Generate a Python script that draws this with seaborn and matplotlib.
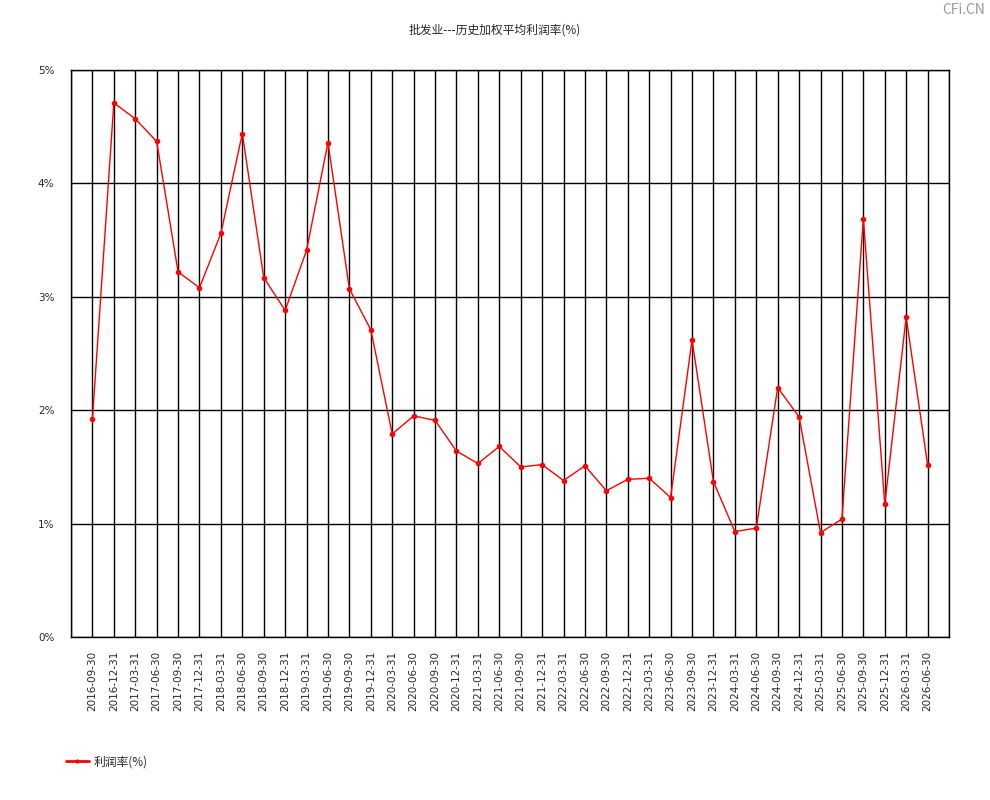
#!/usr/bin/env python3

import pandas as pd
import seaborn as sns
import matplotlib
matplotlib.use("Agg")
import matplotlib.pyplot as plt

# ==========================
# DATA
# ==========================
dates = [
    "2016-09-30", "2016-12-31",
    "2017-03-31", "2017-06-30", "2017-09-30", "2017-12-31",
    "2018-03-31", "2018-06-30", "2018-09-30", "2018-12-31",
    "2019-03-31", "2019-06-30", "2019-09-30", "2019-12-31",
    "2020-03-31", "2020-06-30", "2020-09-30", "2020-12-31",
    "2021-03-31", "2021-06-30", "2021-09-30", "2021-12-31",
    "2022-03-31", "2022-06-30", "2022-09-30", "2022-12-31",
    "2023-03-31", "2023-06-30", "2023-09-30", "2023-12-31",
    "2024-03-31", "2024-06-30", "2024-09-30", "2024-12-31",
    "2025-03-31", "2025-06-30", "2025-09-30", "2025-12-31",
    "2026-03-31", "2026-06-30",
]
profit_rate = [
    1.92, 4.71, 4.57, 4.37, 3.22, 3.08, 3.56, 4.44, 3.17, 2.88,
    3.41, 4.36, 3.07, 2.71, 1.79, 1.95, 1.91, 1.64, 1.53, 1.68,
    1.50, 1.52, 1.38, 1.51, 1.29, 1.39, 1.40, 1.23, 2.62, 1.37,
    0.93, 0.96, 2.20, 1.94, 0.92, 1.04, 3.69, 1.17, 2.82, 1.52,
]
y_ticks = [0, 1, 2, 3, 4, 5]

title = "批发业---历史加权平均利润率(%)"
series_name = "利润率(%)"

# ==========================
# PLOT
# ==========================
sns.set_style("white")
plt.rcParams["font.family"] = ["Noto Sans CJK SC", "DejaVu Sans"]

df = pd.DataFrame({"idx": range(len(dates)), "rate": profit_rate})

fig = plt.figure(figsize=(9.9, 8.0), dpi=100)
ax = fig.add_axes([71 / 990, 1 - 637 / 800, (949 - 71) / 990, (637 - 70) / 800])

sns.lineplot(data=df, x="idx", y="rate", ax=ax, color="red", linewidth=1,
             marker="o", markersize=4, markeredgewidth=0, label=series_name)

n = len(dates)
ax.set_xlim(-1, n)
ax.set_ylim(0, 5)
ax.set_xticks(range(-1, n + 1))
ax.set_xticklabels([""] + dates + [""], rotation=90, fontsize=7.5,
                   family=["DejaVu Sans"])
ax.set_yticks(y_ticks)
ax.set_yticklabels([f"{v}%" for v in y_ticks], fontsize=7.5, family=["DejaVu Sans"])
ax.tick_params(axis="x", length=8, width=1, color="black", pad=2)
ax.tick_params(axis="y", length=10, width=1, color="black", pad=2)
ax.grid(True, color="black", linewidth=1)
for s in ax.spines.values():
    s.set_color("black")
    s.set_linewidth(1)
ax.set_xlabel("")
ax.set_ylabel("")

ax.get_legend().remove()
handles, labels = ax.get_legend_handles_labels()
leg = fig.legend(handles, labels, loc="center left", bbox_to_anchor=(55 / 990, 1 - 762 / 800),
                 frameon=False, fontsize=8.5, handlelength=2.0, handletextpad=0.4)
for line in leg.get_lines():
    line.set_linewidth(2)
    line.set_markersize(3)

fig.text(495 / 990, 1 - 30 / 800, title, ha="center", va="center", fontsize=8.5)
fig.text(985 / 990, 1 - 10 / 800, "CFi.CN", ha="right", va="center", fontsize=10,
         color="#999999")

fig.savefig("out.png", dpi=100)
plt.close(fig)
